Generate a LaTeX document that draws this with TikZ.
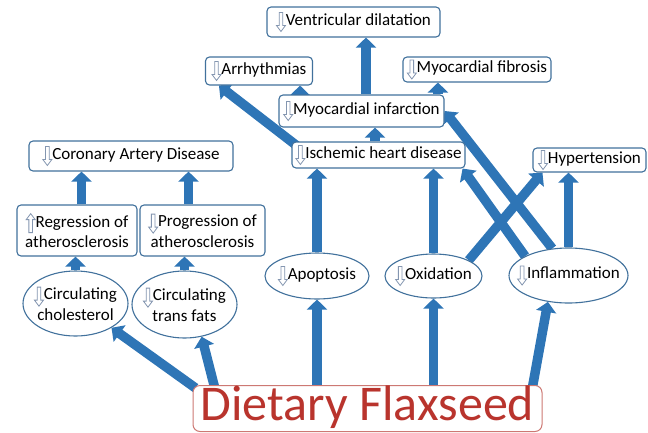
\documentclass[tikz,border=0pt]{standalone}
\usepackage{fontspec}
\setmainfont{Carlito}
\usetikzlibrary{arrows.meta,shapes.geometric,backgrounds}
\definecolor{arrowblue}{RGB}{46,117,182}
\definecolor{boxline}{RGB}{65,113,156}
\definecolor{iconline}{RGB}{132,150,176}
\definecolor{flaxred}{RGB}{185,52,45}
\definecolor{flaxline}{RGB}{205,120,115}
\newcommand\dnicon{\tikz[baseline=0pt,sharp corners]\draw[iconline,line width=0.8pt,fill=white,line join=miter] (-1.8pt,12.5pt)--(1.8pt,12.5pt)--(1.8pt,-0.5pt)--(4.5pt,-0.5pt)--(0pt,-6.5pt)--(-4.5pt,-0.5pt)--(-1.8pt,-0.5pt)--cycle;}
\newcommand\upicon{\tikz[baseline=0pt,sharp corners]\draw[iconline,line width=0.8pt,fill=white,line join=miter] (-1.8pt,-5.5pt)--(1.8pt,-5.5pt)--(1.8pt,7.5pt)--(4.5pt,7.5pt)--(0pt,13.5pt)--(-4.5pt,7.5pt)--(-1.8pt,7.5pt)--cycle;}
\newcommand\lblfont{\fontsize{17}{20.5}\selectfont}
\tikzset{
  rbox/.style={draw=boxline, line width=1.1pt, rounded corners=4pt, fill=white, inner sep=0pt, font=\lblfont, align=center},
  oval/.style={ellipse, draw=boxline, line width=1.1pt, fill=white, inner sep=0pt},
  ovaltext/.style={font=\lblfont, align=center},
  flaxbox/.style={draw=flaxline, line width=1pt, rounded corners=7pt, fill=white, inner sep=0pt, text=flaxred, font=\fontsize{50}{54}\selectfont, text height=34pt, text depth=9.5pt},
  blk/.style={draw=arrowblue, line width=9.5pt, -{Triangle[width=20pt,length=10pt]}},
}
\begin{document}
\begin{tikzpicture}[x=1pt,y=-1pt]
\useasboundingbox (0,0) rectangle (648,432);
\node[rbox, minimum width=173pt, minimum height=30pt] (vd) at (353.5,22) {\dnicon Ventricular dilatation};
\node[rbox, minimum width=107pt, minimum height=28pt] (arr) at (259,71) {\dnicon Arrhythmias};
\node[rbox, minimum width=148pt, minimum height=25pt] (mf) at (477,69.5) {\dnicon Myocardial fibrosis};
\node[rbox, minimum width=165pt, minimum height=32pt] (mi) at (361.5,111) {\dnicon Myocardial infarction};
\node[rbox, minimum width=173pt, minimum height=26pt] (ihd) at (378.5,155) {\dnicon Ischemic heart disease};
\node[rbox, minimum width=204pt, minimum height=30pt] (cad) at (131,156) {\dnicon Coronary Artery Disease};
\node[rbox, minimum width=113pt, minimum height=24pt] (hyp) at (589.5,160) {\dnicon Hypertension};
\node[rbox, minimum width=120pt, minimum height=51pt] (reg) at (77,230.5) {\upicon Regression of\\atherosclerosis};
\node[rbox, minimum width=125pt, minimum height=51pt] (prog) at (202.5,230.5) {\dnicon Progression of\\atherosclerosis};
\node[oval, minimum width=105pt, minimum height=65pt, label={[ovaltext,name=cholt]center:\dnicon Circulating\\cholesterol}] (chol) at (75.5,303.5) {};
\node[oval, minimum width=105pt, minimum height=67pt, label={[ovaltext,name=tft]center:\dnicon Circulating\\trans fats}] (tf) at (184.5,304.5) {};
\node[oval, minimum width=104pt, minimum height=46pt, label={[ovaltext,name=apot]center:\dnicon Apoptosis}] (apo) at (317,276) {};
\node[oval, minimum width=97pt, minimum height=44pt, label={[ovaltext,name=oxit]center:\dnicon Oxidation}] (oxi) at (433.5,276) {};
\node[oval, minimum width=119pt, minimum height=55pt, label={[ovaltext,name=inft]center:\dnicon Inflammation}] (inf) at (568.5,275.5) {};
\node[flaxbox, minimum width=349pt, minimum height=46pt, anchor=north] (flax) at (367.5,385) {Dietary Flaxseed};
\coordinate (arrin) at ([xshift=-13pt]arr.south east);
\coordinate (mfin) at ([xshift=35.5pt]mf.south west);
\coordinate (regout) at ([xshift=4.5pt]reg.north);
\coordinate (progout) at ([xshift=-14pt]prog.north);
\coordinate (ihdout) at ([xshift=-3.5pt]ihd.north);
\coordinate (miout) at ([xshift=4.5pt]mi.north);
\begin{pgfonlayer}{background}
\draw[blk] ([xshift=3pt,yshift=-3pt]flax.north west) -- (chol.-34);
\draw[blk] ([xshift=22pt,yshift=-2pt]flax.north west) -- (tf.-62);
\draw[blk] (flax.north -| apo.south) -- (apo.south);
\draw[blk] (flax.north -| oxi.south) -- (oxi.south);
\draw[blk] ([xshift=-10pt,yshift=-2pt]flax.north east) -- (inf.-128);
\draw[blk] (chol.north) -- (chol.north |- reg.south);
\draw[blk] (tf.north) -- (tf.north |- prog.south);
\draw[blk] (regout) -- (regout |- cad.south);
\draw[blk] (progout) -- (progout |- cad.south);
\draw[blk] (apo.north) -- (apo.north |- ihd.south);
\draw[blk] (oxi.north) -- (oxi.north |- ihd.south);
\draw[blk] (oxi.24) -- ([xshift=10pt]hyp.south west);
\draw[blk] (inf.156) -- ([xshift=-3pt]ihd.south east);
\draw[blk] (inf.121) -- (mi.east);
\draw[blk] (inf.north) -- (inf.north |- hyp.south);
\draw[blk] ([xshift=5pt,yshift=-4pt]ihd.north west) -- ([xshift=14pt]arr.south west);
\draw[blk] (ihdout) -- (ihdout |- mi.south);
\draw[blk] (arrin |- mi.north) -- (arrin);
\draw[blk] (miout) -- (miout |- vd.south);
\draw[blk] (mfin |- mi.north) -- (mfin);
\end{pgfonlayer}
\end{tikzpicture}
\end{document}
